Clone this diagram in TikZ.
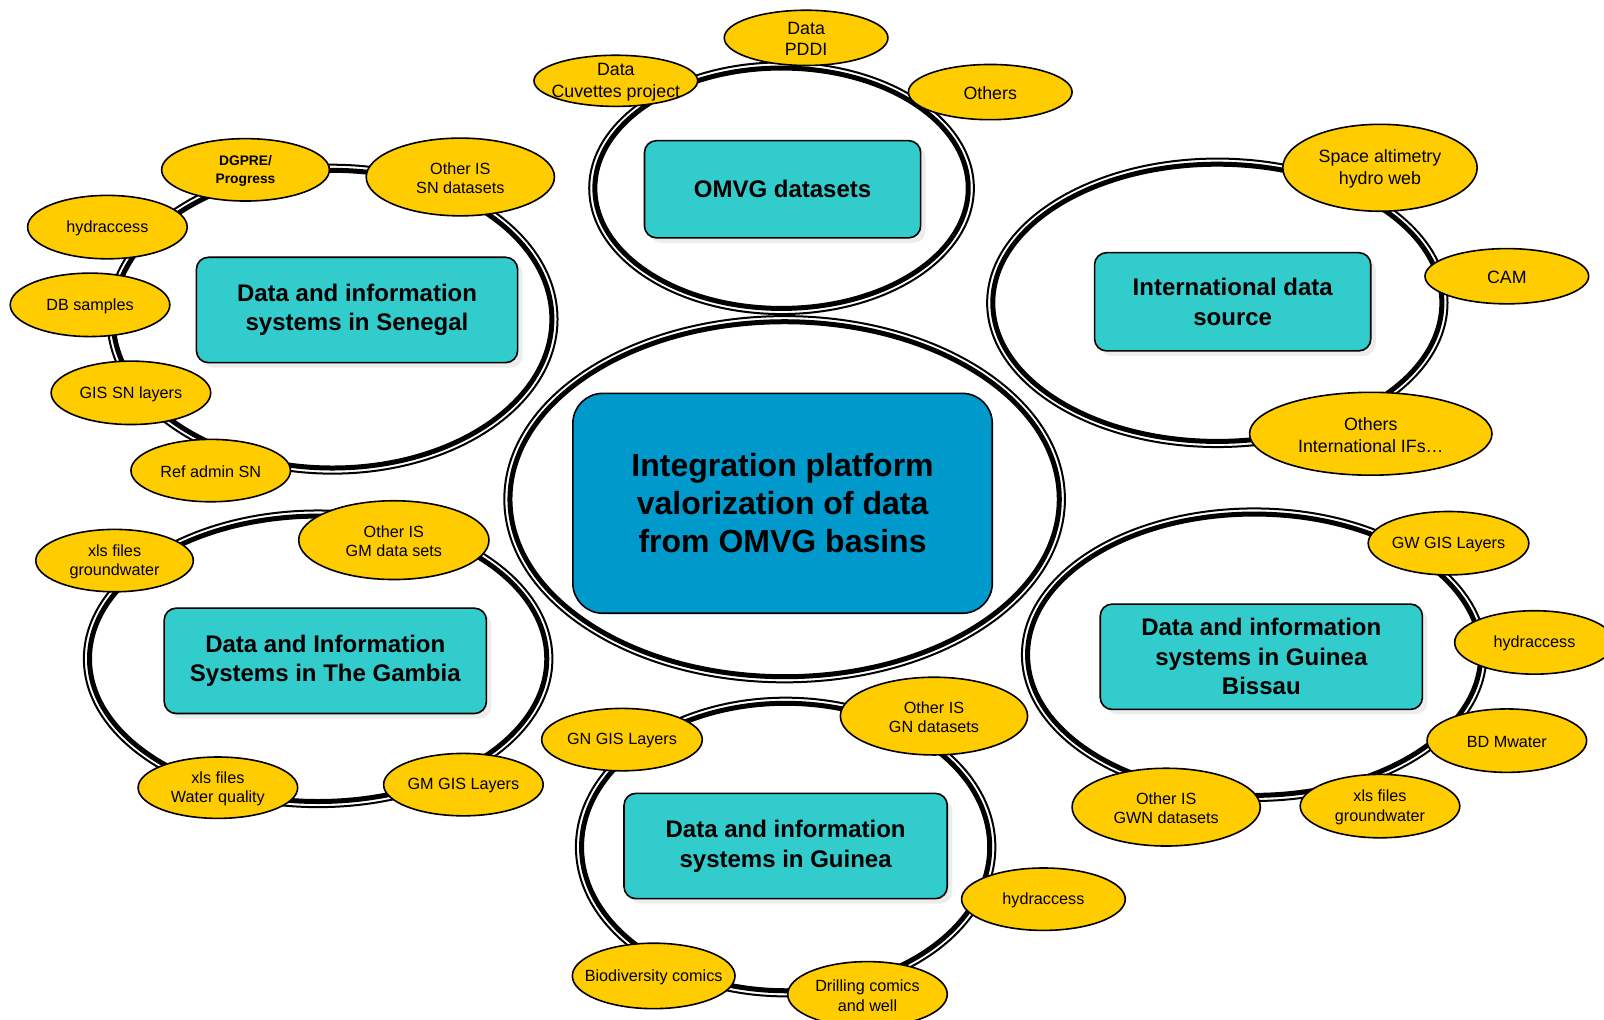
\documentclass[tikz,border=0pt]{standalone}
\usepackage{fontspec}
\setmainfont{Liberation Sans}
\usetikzlibrary{shapes.geometric,shadows}

\definecolor{tealbox}{RGB}{51,204,204}
\definecolor{bluebox}{RGB}{0,153,204}
\definecolor{ylw}{RGB}{255,204,0}

\newdimen\pxu
\pxu=0.5115pt

\begin{document}
\begin{tikzpicture}[x=0.5115pt,y=-0.5115pt]

\useasboundingbox (0,0) rectangle (1568,997);

% ring: thin outer line, thick inner line
\newcommand*{\basinring}[5]{
\draw (#2,#3) node [ringthin, minimum width=(2*#4-2)*\pxu,
                    minimum height=(2*#5-2)*\pxu] (#1-o) {};
\draw (#2,#3) node [ringthick, minimum width=(2*#4-13)*\pxu,
                    minimum height=(2*#5-13)*\pxu] (#1) {};
}

\tikzstyle {ringthin}=[draw,shape=ellipse,line width=1pt,inner sep=0pt];
\tikzstyle {ringthick}=[draw,shape=ellipse,line width=2.5pt,inner sep=0pt];

\tikzstyle {source}=[draw,shape=ellipse,fill=ylw,line width=0.8pt,inner sep=0pt];
\tikzstyle {srctext}=[align=center,inner sep=0pt,yshift=-0.6pt,
     font=\fontsize{8.1}{9.7}\selectfont];
\tikzstyle {bigtext}=[srctext,font=\fontsize{8.9}{10.7}\selectfont];
\tikzstyle {boldtext}=[srctext,font=\fontsize{6.9}{8.7}\selectfont\bfseries];

\tikzstyle {system}=[draw,shape=rectangle,rounded corners=6pt,fill=tealbox,
     line width=0.8pt,align=center,font=\fontsize{12}{14.8}\selectfont\bfseries,
     drop shadow={shadow xshift=2.5pt,shadow yshift=-2.5pt,fill=black!7,opacity=1}];

\tikzstyle {platform}=[draw,shape=rectangle,rounded corners=15pt,fill=bluebox,
     line width=0.8pt,align=center,font=\fontsize{16}{18.9}\selectfont\bfseries];

% Rings
\basinring{center}{767}{488}{275}{180}
\basinring{omvg}{764}{184}{189}{124}
\basinring{senegal}{325}{312}{221}{152}
\basinring{intl}{1190}{296}{226}{142}
\basinring{gambia}{311}{644}{230}{146}
\basinring{guinea}{768}{828}{206}{147}
\basinring{bissau}{1226}{640}{228}{144}

% Boxes
\draw (765,492) node [platform,minimum width=410*\pxu,minimum height=215*\pxu]
  (plat) {Integration platform\\valorization of data\\from OMVG basins};
\draw (765,185) node [system,minimum width=270*\pxu,minimum height=95*\pxu]
  (omvgbox) {OMVG datasets};
\draw (349,303) node [system,minimum width=314*\pxu,minimum height=103*\pxu]
  (snbox) {Data and information\\systems in Senegal};
\draw (1205,295) node [system,minimum width=270*\pxu,minimum height=96*\pxu]
  (intlbox) {International data\\source};
\draw (318,646) node [system,minimum width=315*\pxu,minimum height=103*\pxu]
  (gmbox) {Data and Information\\Systems in The Gambia};
\draw (768,827) node [system,minimum width=316*\pxu,minimum height=103*\pxu]
  (gnbox) {Data and information\\systems in Guinea};
\draw (1233,642) node [system,minimum width=315*\pxu,minimum height=103*\pxu]
  (gwbox) {Data and information\\systems in Guinea\\Bissau};

% OMVG sources
\draw (602,79) node [source,minimum width=160*\pxu,minimum height=50*\pxu] (cuv) {};
\draw (cuv.center) node [bigtext] (cuv-t) {Data\\Cuvettes project};
\draw (788,37) node [source,minimum width=160*\pxu,minimum height=54*\pxu] (pddi) {};
\draw (pddi.center) node [bigtext] (pddi-t) {Data\\PDDI};
\draw (968,90) node [source,minimum width=160*\pxu,minimum height=54*\pxu] (omvgoth) {};
\draw (omvgoth.center) node [bigtext] (omvgoth-t) {Others};

% Senegal sources
\draw (240,166) node [source,minimum width=164*\pxu,minimum height=61*\pxu] (dgpre) {};
\draw (dgpre.center) node [boldtext] (dgpre-t) {DGPRE/\\Progress};
\draw (450,173) node [source,minimum width=184*\pxu,minimum height=76*\pxu] (snoth) {};
\draw (snoth.center) node [srctext] (snoth-t) {Other IS\\SN datasets};
\draw (105,222) node [source,minimum width=156*\pxu,minimum height=62*\pxu] (snhyd) {};
\draw (snhyd.center) node [srctext] (snhyd-t) {hydraccess};
\draw (88,298) node [source,minimum width=156*\pxu,minimum height=62*\pxu] (dbs) {};
\draw (dbs.center) node [srctext] (dbs-t) {DB samples};
\draw (128,384) node [source,minimum width=156*\pxu,minimum height=62*\pxu] (gissn) {};
\draw (gissn.center) node [srctext] (gissn-t) {GIS SN layers};
\draw (206,460) node [source,minimum width=156*\pxu,minimum height=61*\pxu] (refadm) {};
\draw (refadm.center) node [srctext] (refadm-t) {Ref admin SN};

% International sources
\draw (1349,164) node [source,minimum width=190*\pxu,minimum height=85*\pxu] (alti) {};
\draw (alti.center) node [bigtext] (alti-t) {Space altimetry\\hydro web};
\draw (1473,270) node [source,minimum width=160*\pxu,minimum height=54*\pxu] (cam) {};
\draw (cam.center) node [bigtext] (cam-t) {CAM};
\draw (1340,424) node [source,minimum width=237*\pxu,minimum height=81*\pxu] (intoth) {};
\draw (intoth.center) node [bigtext] (intoth-t) {Others\\International IFs…};

% Gambia sources
\draw (112,548) node [source,minimum width=154*\pxu,minimum height=61*\pxu] (gmxls) {};
\draw (gmxls.center) node [srctext] (gmxls-t) {xls files\\groundwater};
\draw (385,528) node [source,minimum width=186*\pxu,minimum height=77*\pxu] (gmoth) {};
\draw (gmoth.center) node [srctext] (gmoth-t) {Other IS\\GM data sets};
\draw (213,770) node [source,minimum width=156*\pxu,minimum height=60*\pxu] (gmwq) {};
\draw (gmwq.center) node [srctext] (gmwq-t) {xls files\\Water quality};
\draw (453,767) node [source,minimum width=156*\pxu,minimum height=61*\pxu] (gmgis) {};
\draw (gmgis.center) node [srctext] (gmgis-t) {GM GIS Layers};

% Guinea sources
\draw (608,723) node [source,minimum width=157*\pxu,minimum height=61*\pxu] (gngis) {};
\draw (gngis.center) node [srctext] (gngis-t) {GN GIS Layers};
\draw (913,700) node [source,minimum width=183*\pxu,minimum height=76*\pxu] (gnoth) {};
\draw (gnoth.center) node [srctext] (gnoth-t) {Other IS\\GN datasets};
\draw (1020,879) node [source,minimum width=160*\pxu,minimum height=61*\pxu] (gnhyd) {};
\draw (gnhyd.center) node [srctext] (gnhyd-t) {hydraccess};
\draw (639,954) node [source,minimum width=159*\pxu,minimum height=64*\pxu] (bio) {};
\draw (bio.center) node [srctext] (bio-t) {Biodiversity comics};
\draw (848,972) node [source,minimum width=156*\pxu,minimum height=64*\pxu] (drill) {};
\draw (drill.center) node [srctext] (drill-t) {Drilling comics\\and well};

% Guinea Bissau sources
\draw (1416,531) node [source,minimum width=157*\pxu,minimum height=62*\pxu] (gwgis) {};
\draw (gwgis.center) node [srctext] (gwgis-t) {GW GIS Layers};
\draw (1500,628) node [source,minimum width=156*\pxu,minimum height=62*\pxu] (gwhyd) {};
\draw (gwhyd.center) node [srctext] (gwhyd-t) {hydraccess};
\draw (1473,724) node [source,minimum width=156*\pxu,minimum height=62*\pxu] (bdm) {};
\draw (bdm.center) node [srctext] (bdm-t) {BD Mwater};
\draw (1349,788) node [source,minimum width=156*\pxu,minimum height=62*\pxu] (gwxls) {};
\draw (gwxls.center) node [srctext] (gwxls-t) {xls files\\groundwater};
\draw (1140,789) node [source,minimum width=184*\pxu,minimum height=76*\pxu] (gwoth) {};
\draw (gwoth.center) node [srctext] (gwoth-t) {Other IS\\GWN datasets};
\end{tikzpicture}
\end{document}
